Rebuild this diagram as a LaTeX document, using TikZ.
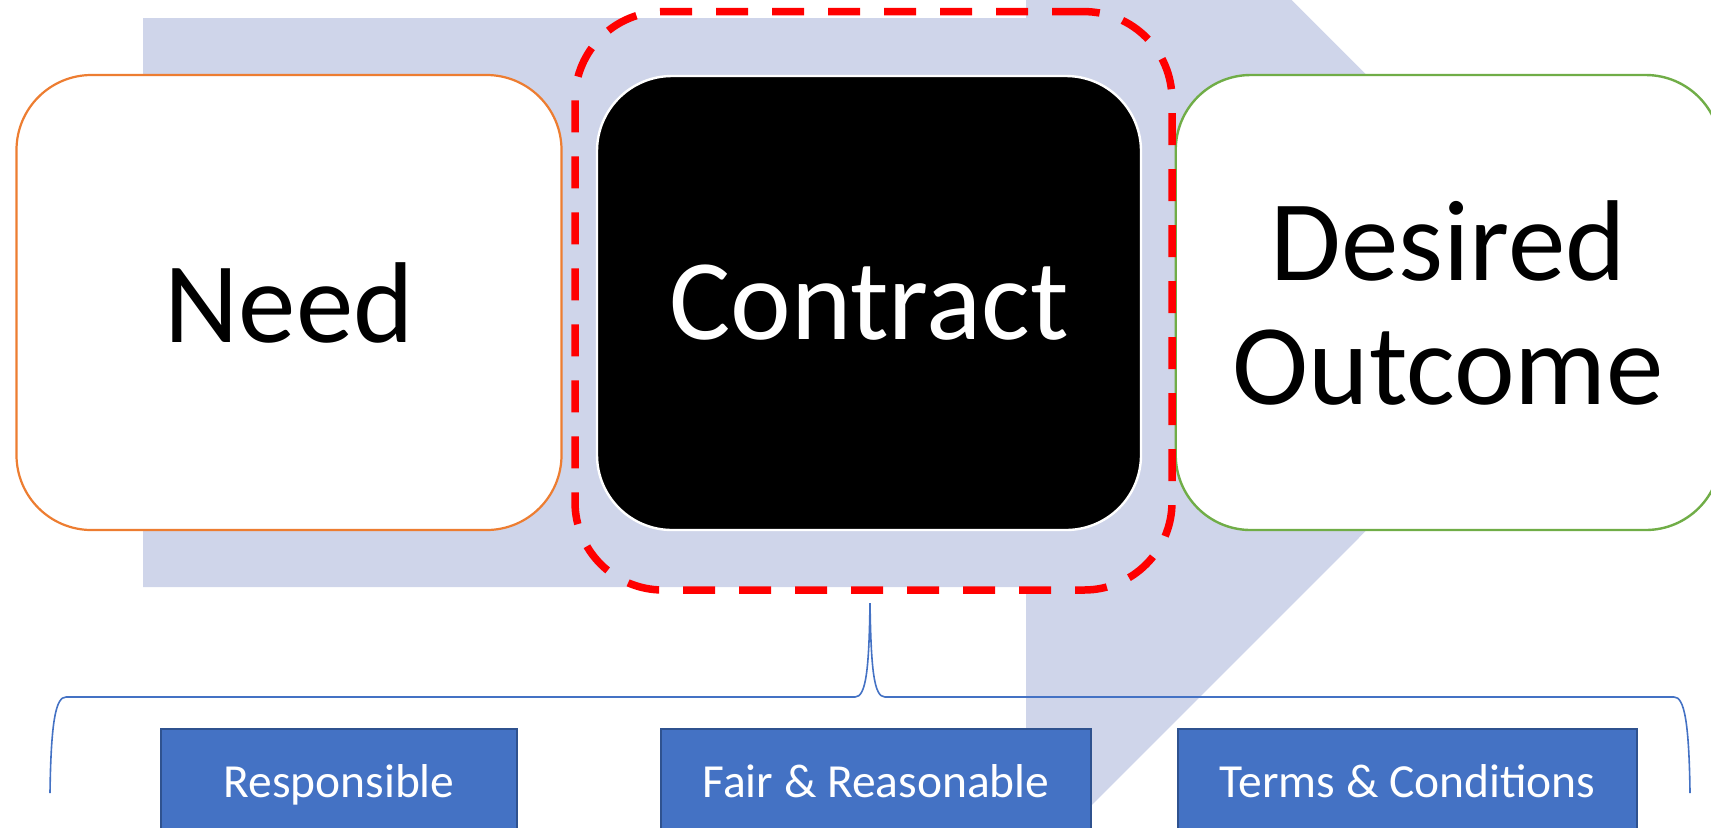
\documentclass[tikz,border=0pt]{standalone}
\usepackage{fontspec}
\setmainfont{Carlito}
\definecolor{shadeblue}{HTML}{CFD5EA}
\definecolor{needorange}{HTML}{ED7D31}
\definecolor{outgreen}{HTML}{70AD47}
\definecolor{accblue}{HTML}{4472C4}
\definecolor{darkblue}{HTML}{2F528F}
\definecolor{hotred}{HTML}{FF0000}
\tikzset{
  bigbox/.style={rectangle, rounded corners=37.5pt, minimum width=272.5pt, minimum height=227.5pt,
    inner sep=0pt, align=center, font=\fontsize{57.5pt}{62pt}\selectfont},
  redframe/.style={rectangle, rounded corners=44pt, draw=hotred, line width=3.75pt,
    dash pattern=on 16pt off 12pt, minimum width=298.5pt, minimum height=289.2pt, inner sep=0pt},
  bluebox/.style={rectangle, fill=accblue, draw=darkblue, line width=1.25pt, minimum height=53pt,
    inner sep=0pt, text=white, text height=15pt, text depth=0pt, font=\fontsize{23.75pt}{28pt}\selectfont},
  bracestyle/.style={draw=accblue, line width=0.8pt}
}
\begin{document}
\begin{tikzpicture}[x=0.5pt,y=-0.5pt]
\useasboundingbox (0,0) rectangle (1711,827);
\clip (0,0) rectangle (1711,827);
% background arrow
\fill[shadeblue] (143,18.2) -- (1026,18.2) -- (1026,-265.7) -- (1594,302.5) -- (1026,871) -- (1026,587) -- (143,587) -- cycle;
% main boxes
\node[bigbox, fill=white, draw=needorange, line width=1.1pt] (need) at (289,302.5) {Need};
\node[bigbox, fill=black, draw=white, line width=1.2pt, text=white, minimum width=272pt, minimum height=227pt] (contract) at (869,303) {Contract};
\node[bigbox, fill=white, draw=outgreen, line width=1.2pt] (outcome) at (1448.2,302.5) {Desired\\Outcome};
\node[redframe] (frame) at (873.5,300.8) {};
% brace
\coordinate (bl) at (50,793);
\coordinate (bh1) at (66,697);
\coordinate (bt1) at (855,697);
\coordinate (tip) at (870,603);
\coordinate (bt2) at (885,697);
\coordinate (bh2) at (1674,697);
\coordinate (br) at (1690,793);
\draw[bracestyle] (bl) .. controls (51,720) and (56,697) .. (bh1) -- (bt1)
  .. controls (866,697) and (869,670) .. (tip)
  .. controls (871,670) and (874,697) .. (bt2) -- (bh2)
  .. controls (1684,697) and (1689,720) .. (br);
% blue boxes
\node[bluebox, minimum width=178pt] (resp) at (339,782) {Responsible};
\node[bluebox, minimum width=215pt] (fair) at (876,782) {Fair \& Reasonable};
\node[bluebox, minimum width=229.5pt] (terms) at (1407.5,782) {Terms \& Conditions};
\end{tikzpicture}
\end{document}
